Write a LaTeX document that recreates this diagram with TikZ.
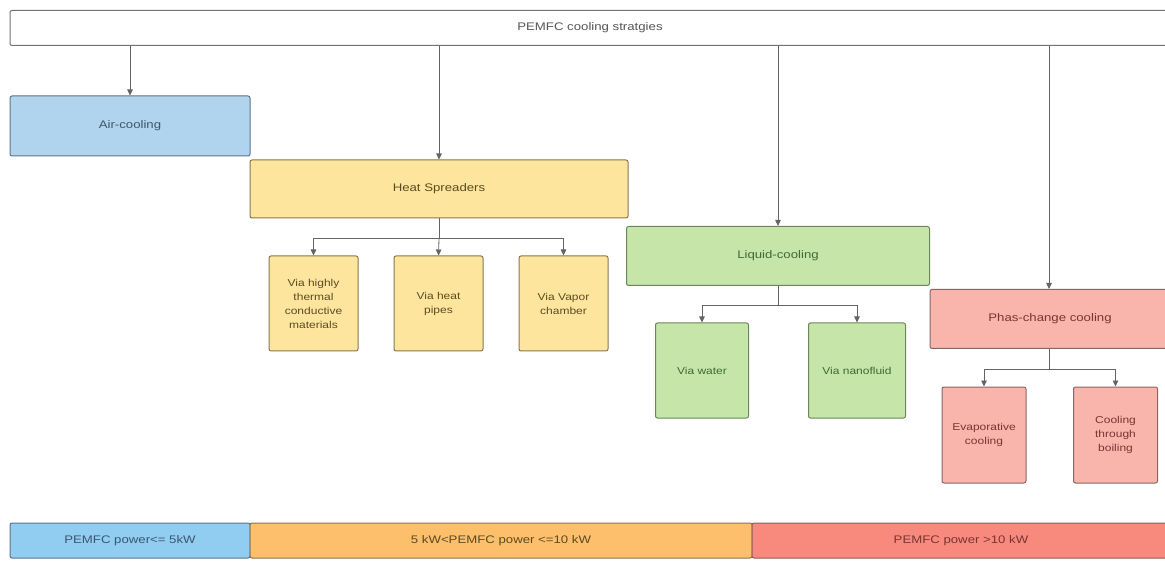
\documentclass[tikz,border=0pt]{standalone}
\usepackage{fontspec}
\setmainfont{Liberation Sans}[FakeStretch=1.2]
\usetikzlibrary{arrows.meta}

\definecolor{linec}{HTML}{646464}
\definecolor{rootbd}{HTML}{737373}
\definecolor{roottx}{HTML}{555555}
\definecolor{airfill}{HTML}{B1D4EE}
\definecolor{airbd}{HTML}{5E7489}
\definecolor{airtx}{HTML}{3B5670}
\definecolor{heatfill}{HTML}{FDE59D}
\definecolor{heatbd}{HTML}{877750}
\definecolor{heattx}{HTML}{5C4B20}
\definecolor{liqfill}{HTML}{C6E5A9}
\definecolor{liqbd}{HTML}{6A865A}
\definecolor{liqtx}{HTML}{3E6B2E}
\definecolor{phfill}{HTML}{F9B4AB}
\definecolor{phbd}{HTML}{8A6662}
\definecolor{phtx}{HTML}{7A3434}
\definecolor{lowfill}{HTML}{90CDF0}
\definecolor{midfill}{HTML}{FDBF6C}
\definecolor{midbd}{HTML}{8C7450}
\definecolor{highfill}{HTML}{F88A7D}
\definecolor{highbd}{HTML}{8E5E58}

\begin{document}
\begin{tikzpicture}[x=1pt,y=-1pt,
  box/.style={draw, rounded corners=2pt, line width=1pt, align=center,
    inner sep=0pt, font=\fontsize{11}{14}\selectfont},
  small/.style={font=\fontsize{10}{14}\selectfont},
  airbox/.style={box, fill=airfill, draw=airbd, text=airtx},
  heatbox/.style={box, fill=heatfill, draw=heatbd, text=heattx},
  liqbox/.style={box, fill=liqfill, draw=liqbd, text=liqtx},
  phbox/.style={box, fill=phfill, draw=phbd, text=phtx},
  link/.style={draw=linec, line width=0.8pt, -{Triangle[length=6pt,width=5.5pt]}},
  stem/.style={draw=linec, line width=0.8pt}]

\useasboundingbox[fill=white] (0,0) rectangle (1165,561);

% root strip
\node[box, draw=rootbd, fill=white, text=roottx, minimum width=1160, minimum height=35] (root) at (590,28) {PEMFC cooling stratgies};

% main categories
\node[airbox, minimum width=240, minimum height=60] (air) at (130,126) {Air-cooling};
\node[heatbox, minimum width=378, minimum height=58] (heat) at (439,189) {Heat Spreaders};
\node[liqbox, minimum width=303, minimum height=59] (liq) at (778,256) {Liquid-cooling};
\node[phbox, minimum width=240, minimum height=59] (ph) at (1050,319) {Phas-change cooling};

% heat spreader variants
\node[heatbox, small, minimum width=89, minimum height=95] (h1) at (313.5,303.5) {Via highly\\thermal\\conductive\\materials};
\node[heatbox, small, minimum width=89, minimum height=95] (h2) at (438.5,303.5) {Via heat\\pipes};
\node[heatbox, small, minimum width=89, minimum height=95] (h3) at (563.5,303.5) {Via Vapor\\chamber};

% liquid variants
\node[liqbox, small, minimum width=93, minimum height=95] (l1) at (702,370.5) {Via water};
\node[liqbox, small, minimum width=97, minimum height=95] (l2) at (857,370.5) {Via nanofluid};

% phase-change variants
\node[phbox, small, minimum width=84, minimum height=96] (p1) at (984,435) {Evaporative\\cooling};
\node[phbox, small, minimum width=84, minimum height=96] (p2) at (1115.5,435) {Cooling\\through\\boiling};

% power ranges
\node[box, fill=lowfill, draw=airbd, text=airtx, minimum width=240, minimum height=35] (low) at (130,540.5) {PEMFC power<= 5kW};
\node[box, fill=midfill, draw=midbd, text=heattx, minimum width=502, minimum height=35] (mid) at (501,540.5) {5 kW<PEMFC power <=10 kW};
\node[box, fill=highfill, draw=highbd, text=phtx, minimum width=418, minimum height=35] (high) at (961,540.5) {PEMFC power >10 kW};

% root to categories
\draw[link] (root.south -| air.north) -- (air.north);
\draw[link] (root.south -| heat.north) -- (heat.north);
\draw[link] (root.south -| liq.north) -- (liq.north);
\draw[link] (root.south -| 1049,0) coordinate (phtop) -- (phtop |- ph.north);

% heat spreader branch
\path (heat.south) ++(0,20) coordinate (hj);
\draw[stem] (heat.south) -- (hj);
\draw[link] (hj) -| (h1.north);
\draw[link] (hj) -- (h2.north);
\draw[link] (hj) -| (h3.north);

% liquid branch
\path (liq.south) ++(0,19) coordinate (lj);
\draw[stem] (liq.south) -- (lj);
\draw[link] (lj) -| (l1.north);
\draw[link] (lj) -| (l2.north);

% phase-change branch
\path (phtop |- ph.south) ++(0,20) coordinate (pj);
\draw[stem] (phtop |- ph.south) -- (pj);
\draw[link] (pj) -| (p1.north);
\draw[link] (pj) -| (p2.north);

\end{tikzpicture}
\end{document}
